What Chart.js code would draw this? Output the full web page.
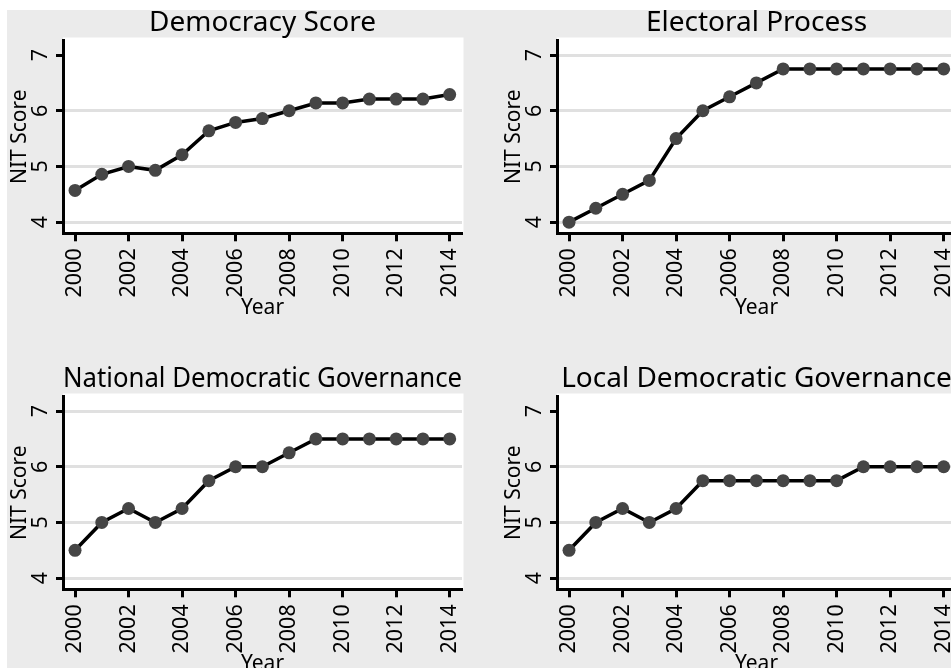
<!DOCTYPE html>
<html>
<head>
<meta charset="utf-8">
<script src="https://cdn.jsdelivr.net/npm/chart.js@4/dist/chart.umd.min.js"></script>
<style>
  html, body { margin: 0; padding: 0; background: #fff; width: 951px; height: 668px; overflow: hidden; }
  #bg { position: absolute; left: 7px; top: 10px; width: 944px; height: 658px; background: #ebebeb; }
  canvas { position: absolute; }
</style>
</head>
<body>
<div id="bg"></div>
<canvas id="p0" width="495" height="356" style="left:0px;top:0px"></canvas>
<canvas id="p1" width="495" height="356" style="left:494px;top:0px"></canvas>
<canvas id="p2" width="495" height="356" style="left:0px;top:356px"></canvas>
<canvas id="p3" width="495" height="356" style="left:494px;top:356px"></canvas>
<script>
// DATA
const years = [2000, 2001, 2002, 2003, 2004, 2005, 2006, 2007, 2008, 2009, 2010, 2011, 2012, 2013, 2014];
const democracyScore = [4.57, 4.86, 5.00, 4.93, 5.21, 5.64, 5.79, 5.86, 6.00, 6.14, 6.14, 6.21, 6.21, 6.21, 6.29];
const electoralProcess = [4.00, 4.25, 4.50, 4.75, 5.50, 6.00, 6.25, 6.50, 6.75, 6.75, 6.75, 6.75, 6.75, 6.75, 6.75];
const nationalGovernance = [4.50, 5.00, 5.25, 5.00, 5.25, 5.75, 6.00, 6.00, 6.25, 6.50, 6.50, 6.50, 6.50, 6.50, 6.50];
const localGovernance = [4.50, 5.00, 5.25, 5.00, 5.25, 5.75, 5.75, 5.75, 5.75, 5.75, 5.75, 6.00, 6.00, 6.00, 6.00];

const panelTitles = ["Democracy Score", "Electoral Process", "National Democratic Governance", "Local Democratic Governance"];
const panelSeries = [democracyScore, electoralProcess, nationalGovernance, localGovernance];
const topGridShown = [false, true, true, false];

const xTickValues = [2000, 2002, 2004, 2006, 2008, 2010, 2012, 2014];
const yTickValues = [4, 5, 6, 7];

const FONT = "'Noto Sans'";

// white plot region behind each panel
const plotBg = {
  id: "plotBg",
  beforeDraw(chart) {
    const a = chart.chartArea;
    const ctx = chart.ctx;
    ctx.save();
    ctx.fillStyle = "#ffffff";
    ctx.fillRect(a.left, a.top - 2.5, a.right - a.left + 1.5, a.bottom - a.top + 2.5);
    ctx.restore();
  }
};

function makePanel(idx) {
  const canvas = document.getElementById("p" + idx);
  const values = panelSeries[idx];
  const showTop = topGridShown[idx];

  return new Chart(canvas, {
    type: "line",
    data: {
      datasets: [{
        data: years.map((yr, i) => ({ x: yr, y: values[i] })),
        borderColor: "#000000",
        borderWidth: 3.5,
        pointRadius: 6.5,
        pointBackgroundColor: "#454545",
        pointBorderColor: "#454545",
        pointBorderWidth: 0,
        tension: 0
      }]
    },
    options: {
      responsive: false,
      animation: false,
      events: [],
      layout: { padding: { left: 0, right: 33, top: 0, bottom: 0 } },
      plugins: {
        legend: { display: false },
        tooltip: { enabled: false },
        title: {
          display: true,
          text: panelTitles[idx],
          color: "#000000",
          fullSize: false,
          font: { family: FONT, size: 28, weight: "normal" },
          padding: { top: 6, bottom: 0.4 }
        }
      },
      scales: {
        x: {
          type: "linear",
          min: 1999.55,
          max: 2014.46,
          afterBuildTicks: s => { s.ticks = xTickValues.map(v => ({ value: v })); },
          afterFit: s => { s.height = 356 - 233.3; },
          ticks: {
            color: "#000000",
            font: { family: FONT, size: 21.5 },
            minRotation: 90,
            maxRotation: 90,
            padding: 7,
            callback: v => String(v)
          },
          grid: {
            drawOnChartArea: false,
            tickColor: "#000000",
            tickWidth: 3,
            tickLength: 8
          },
          border: { color: "#000000", width: 3 },
          title: {
            display: true,
            text: "Year",
            color: "#000000",
            font: { family: FONT, size: 21 },
            padding: { top: 0, bottom: 35 }
          }
        },
        y: {
          type: "linear",
          min: 3.8,
          max: 7.27,
          afterBuildTicks: s => { s.ticks = yTickValues.map(v => ({ value: v })); },
          afterFit: s => { s.width = 63; },
          ticks: {
            color: "#000000",
            font: { family: FONT, size: 21.5 },
            minRotation: 90,
            maxRotation: 90,
            crossAlign: "center",
            padding: 9
          },
          grid: {
            color: ctx => (ctx.tick && ctx.tick.value === 7 && !showTop) ? "rgba(0,0,0,0)" : "#e0e0e0",
            lineWidth: 3,
            tickColor: "#000000",
            tickWidth: 3,
            tickLength: 7
          },
          border: { color: "#000000", width: 3 },
          title: {
            display: true,
            text: "NIT Score",
            color: "#000000",
            font: { family: FONT, size: 21 },
            padding: { top: 7.7, bottom: 0 }
          }
        }
      }
    },
    plugins: [plotBg]
  });
}

[0, 1, 2, 3].forEach(makePanel);
</script>
</body>
</html>
